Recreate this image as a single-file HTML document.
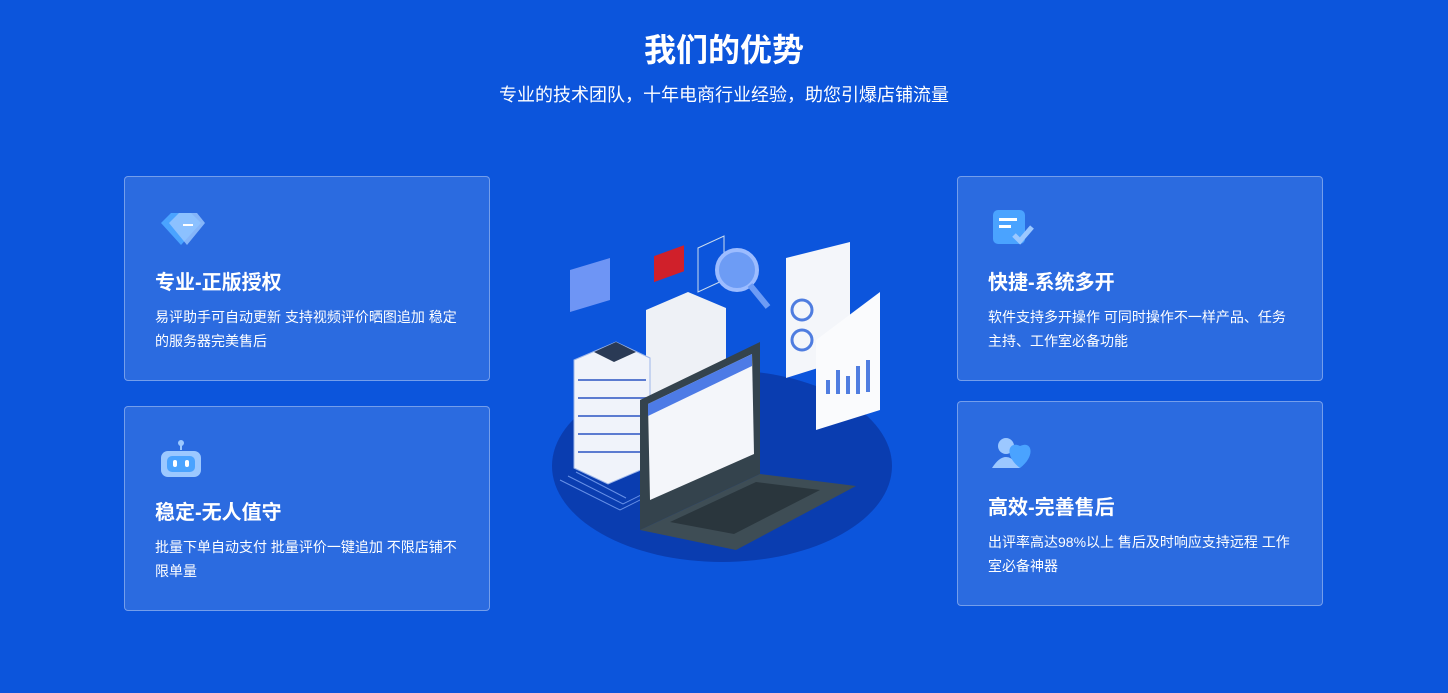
<!DOCTYPE html>
<html><head><meta charset="utf-8"><style>
*{margin:0;padding:0;box-sizing:border-box}
body{width:1448px;height:693px;overflow:hidden;background:#0c55dc;font-family:"Liberation Sans","Noto Sans CJK SC",sans-serif;color:#fff;position:relative}
.t{position:absolute;left:0;width:1448px;text-align:center}
.card{position:absolute;width:366px;height:205px;background:rgba(255,255,255,0.13);border:1px solid rgba(255,255,255,0.35);border-radius:4px}
.card h3{position:absolute;left:30px;top:89px;font-size:20px;font-weight:bold}
.card p{position:absolute;left:30px;top:128px;width:308px;font-size:14px;line-height:24px}
.ic{position:absolute;left:32px;top:32px}
</style></head><body>
<div class="t" style="top:25px;font-size:32px;font-weight:bold">我们的优势</div>
<div class="t" style="top:81px;font-size:18px">专业的技术团队，十年电商行业经验，助您引爆店铺流量</div>

<div class="card" style="left:124px;top:176px">
<svg class="ic" width="50" height="40"><polygon points="4,14 14,4 34,4 44,14 24,36" fill="#4aa3ff"/><polygon points="12,14 22,4 40,4 48,14 30,36" fill="#9cc8ff" opacity=".8"/><rect x="26" y="15" width="10" height="2" fill="#fff"/></svg>
<h3>专业-正版授权</h3><p>易评助手可自动更新 支持视频评价晒图追加 稳定的服务器完美售后</p></div>

<div class="card" style="left:124px;top:406px">
<svg class="ic" width="50" height="42"><circle cx="24" cy="4" r="3" fill="#9cc8ff"/><rect x="23" y="5" width="2" height="6" fill="#9cc8ff"/><rect x="4" y="12" width="40" height="26" rx="7" fill="#9cc8ff"/><rect x="10" y="17" width="28" height="16" rx="5" fill="#4aa3ff"/><rect x="16" y="21" width="4" height="7" rx="2" fill="#fff"/><rect x="28" y="21" width="4" height="7" rx="2" fill="#fff"/></svg>
<h3>稳定-无人值守</h3><p>批量下单自动支付 批量评价一键追加 不限店铺不限单量</p></div>

<div class="card" style="left:957px;top:176px">
<svg class="ic" width="50" height="40"><rect x="3" y="1" width="32" height="34" rx="5" fill="#4aa3ff"/><rect x="9" y="9" width="18" height="3" fill="#fff"/><rect x="9" y="16" width="12" height="3" fill="#fff"/><path d="M24 26 l6 6 l12 -14" stroke="#9cc8ff" stroke-width="5" fill="none"/></svg>
<h3>快捷-系统多开</h3><p>软件支持多开操作 可同时操作不一样产品、任务主持、工作室必备功能</p></div>

<div class="card" style="left:957px;top:401px">
<svg class="ic" width="50" height="40"><circle cx="16" cy="12" r="8" fill="#9cc8ff"/><path d="M2 34 q14 -22 28 0z" fill="#9cc8ff"/><path d="M30 34 C14 22 18 6 30 12 C42 6 46 22 30 34z" fill="#4aa3ff"/></svg>
<h3>高效-完善售后</h3><p>出评率高达98%以上 售后及时响应支持远程 工作室必备神器</p></div>

<svg style="position:absolute;left:550px;top:230px" width="350" height="340">
<ellipse cx="172" cy="236" rx="170" ry="96" fill="#0a3db0"/>
<g stroke="#8fb4ff" stroke-width="1" fill="none" opacity=".7"><path d="M10 250 l60 30 l40 -20"/><path d="M18 246 l55 28 l40 -20"/><path d="M26 242 l50 26"/></g>
<polygon points="20,40 60,28 60,70 20,82" fill="#6e95f5"/>
<polygon points="148,18 174,6 174,50 148,62" fill="#0c55dc" stroke="#cde" stroke-width="1"/>
<rect x="104" y="24" width="30" height="26" fill="#d0202a" transform="skewY(-20) translate(0,40)"/>
<circle cx="187" cy="40" r="20" fill="#6d9cf5" stroke="#9cbcff" stroke-width="4"/><path d="M200 55 l18 22" stroke="#6d9cf5" stroke-width="6"/>
<polygon points="96,80 138,62 176,78 176,200 134,218 96,200" fill="#eef1f6"/>
<g fill="#f0f3fa" stroke="#9db6ea"><polygon points="24,130 66,112 100,128 100,236 58,254 24,238"/></g>
<g stroke="#5b7bd0" stroke-width="2">
<line x1="28" y1="150" x2="96" y2="150"/><line x1="28" y1="168" x2="96" y2="168"/><line x1="28" y1="186" x2="96" y2="186"/><line x1="28" y1="204" x2="96" y2="204"/><line x1="28" y1="222" x2="96" y2="222"/></g>
<polygon points="44,122 66,112 86,122 64,132" fill="#2a3a55"/>
<polygon points="236,28 300,12 300,128 236,148" fill="#f4f6fa"/>
<polygon points="266,110 330,62 330,180 266,200" fill="#fafbfd"/>
<g fill="#4f7de0"><rect x="276" y="150" width="4" height="14"/><rect x="286" y="140" width="4" height="24"/><rect x="296" y="146" width="4" height="18"/><rect x="306" y="136" width="4" height="28"/><rect x="316" y="130" width="4" height="32"/></g>
<circle cx="252" cy="80" r="10" fill="none" stroke="#4f7de0" stroke-width="3"/><circle cx="252" cy="110" r="10" fill="none" stroke="#4f7de0" stroke-width="3"/>
<polygon points="90,170 210,112 210,244 90,300" fill="#34434d"/>
<polygon points="98,174 202,124 204,224 100,270" fill="#f4f6fa"/>
<polygon points="98,174 202,124 202,136 98,186" fill="#4d7be6"/>
<polygon points="90,300 210,244 306,256 186,320" fill="#3e4d55"/>
<polygon points="120,292 206,252 270,260 184,304" fill="#2a363d"/>
</svg>
</body></html>
